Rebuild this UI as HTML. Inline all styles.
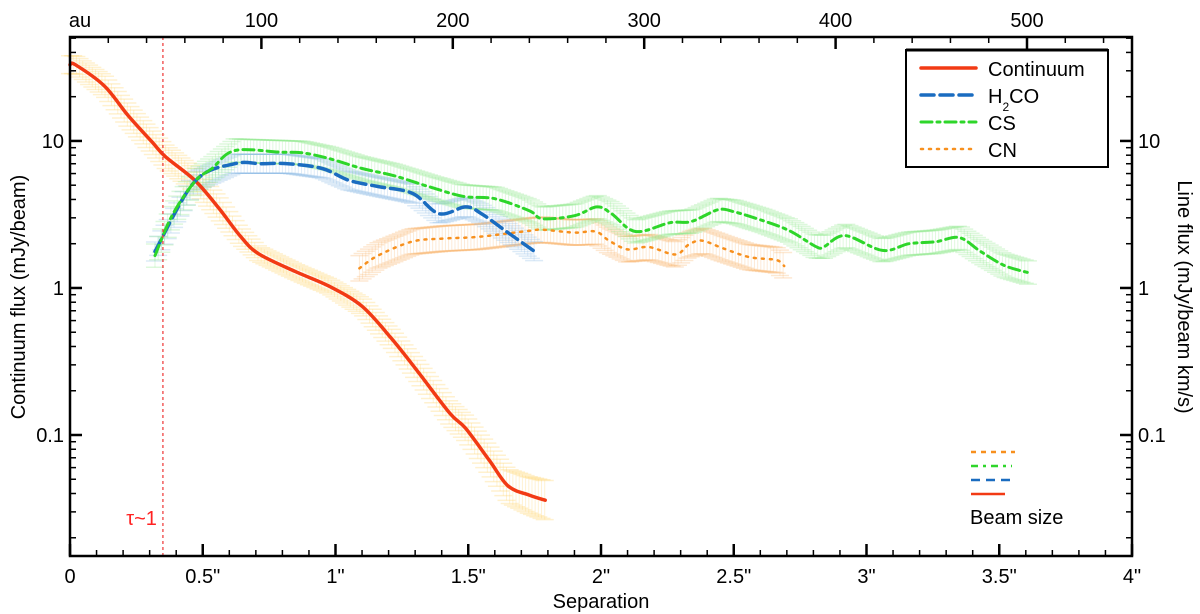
<!DOCTYPE html>
<html><head><meta charset="utf-8"><style>
html,body{margin:0;padding:0;background:#fff;}
svg{display:block;font-family:"Liberation Sans",Arial,sans-serif;}
</style></head><body>
<svg id="chart" width="1200" height="614" viewBox="0 0 1200 614" xmlns="http://www.w3.org/2000/svg">
<g id="bands"></g>
<g id="lines"></g>
<g id="axes"></g>
</svg>
<script>
const contX=[0,0.02,0.13,0.22,0.31,0.36,0.47,0.56,0.64,0.71,0.85,0.975,1.1,1.21,1.31,1.43,1.49,1.58,1.65,1.73,1.79];
const contY=[33,33,23.6,14.8,9.8,7.8,5.4,3.5,2.27,1.71,1.29,1.03,0.75,0.455,0.27,0.141,0.111,0.067,0.045,0.039,0.036];
const contErr=[0.15,0.15,0.18,0.2,0.2,0.2,0.2,0.2,0.15,0.12,0.12,0.12,0.14,0.16,0.18,0.2,0.22,0.26,0.3,0.33,0.36];
const h2coX=[0.32,0.47,0.62,0.72,0.82,0.95,1.05,1.16,1.29,1.39,1.49,1.55,1.64,1.75];
const h2coY=[1.77,5.3,7.0,7.0,7.0,6.5,5.4,4.9,4.4,3.2,3.56,3.2,2.45,1.77];
const csX=[0.32,0.384,0.47,0.535,0.62,0.79,0.875,0.975,1.1,1.22,1.35,1.48,1.6,1.73,1.78,1.9,1.985,2.04,2.13,2.26,2.34,2.44,2.5,2.61,2.71,2.81,2.84,2.92,3.06,3.16,3.26,3.35,3.43,3.52,3.61];
const csY=[1.66,3.1,5.3,6.5,8.6,8.4,8.3,7.6,6.5,5.8,4.9,4.2,4.05,3.35,2.96,3.1,3.56,3.2,2.42,2.78,2.83,3.4,3.3,2.87,2.45,1.91,1.91,2.27,1.8,2.0,2.06,2.2,1.77,1.42,1.27];
const cnX=[1.09,1.16,1.29,1.41,1.54,1.73,1.78,1.9,1.98,2.03,2.1,2.18,2.28,2.33,2.38,2.46,2.56,2.66,2.69];
const cnY=[1.36,1.66,2.07,2.17,2.23,2.45,2.49,2.38,2.42,2.1,1.83,1.9,1.69,1.97,2.1,1.86,1.62,1.55,1.41];
const xTicks=[0,0.5,1,1.5,2,2.5,3,3.5,4];
const xTickLabels=['0','0.5"','1"','1.5"','2"','2.5"','3"','3.5"','4"'];
const auTicks=[100,200,300,400,500];
const yTicks=[0.1,1,10];
const yTickLabels=['0.1','1','10'];

const L=70,R=1132,T=37,B=556;
const X=v=>L+v*(R-L)/4;
const LOGTOP=1.707,LOGBOT=-1.823;
const Y=v=>T+(LOGTOP-Math.log10(v))/(LOGTOP-LOGBOT)*(B-T);
const AU=a=>L+a*1.914;
const NS='http://www.w3.org/2000/svg';
function mk(tag,attrs,parent){const e=document.createElementNS(NS,tag);for(const k in attrs)e.setAttribute(k,attrs[k]);parent.appendChild(e);return e;}
const bands=document.getElementById('bands'),lines=document.getElementById('lines'),axes=document.getElementById('axes');

function interp(xs,ys,x){for(let i=0;i<xs.length-1;i++){if(x>=xs[i]&&x<=xs[i+1]){const t=(x-xs[i])/(xs[i+1]-xs[i]);return Math.exp(Math.log(ys[i])*(1-t)+Math.log(ys[i+1])*t);}}return ys[ys.length-1];}
function smoothPath(pts){
  let d='M'+pts[0][0].toFixed(1)+','+pts[0][1].toFixed(1);
  for(let i=0;i<pts.length-1;i++){
    const p0=pts[Math.max(0,i-1)],p1=pts[i],p2=pts[i+1],p3=pts[Math.min(pts.length-1,i+2)];
    const c1=[p1[0]+(p2[0]-p0[0])/6,p1[1]+(p2[1]-p0[1])/6];
    const c2=[p2[0]-(p3[0]-p1[0])/6,p2[1]-(p3[1]-p1[1])/6];
    d+=' C'+c1[0].toFixed(1)+','+c1[1].toFixed(1)+' '+c2[0].toFixed(1)+','+c2[1].toFixed(1)+' '+p2[0].toFixed(1)+','+p2[1].toFixed(1);
  }
  return d;
}

function drawSeries(name,xs,ys,errs,color,band,dash,w){
  const g=mk('g',{},bands);
  
  
  const x0=xs[0],x1=xs[xs.length-1];
  for(let x=x0;x<=x1+1e-9;x+=0.012){
    const v=interp(xs,ys,x);
    const e=Array.isArray(errs)?interp(xs,errs,x):errs;
    const px=X(x),yt=Y(v*(1+e)),yb=Y(v/(1+e));
    mk('line',{x1:px,x2:px,y1:yt,y2:yb,stroke:band,'stroke-width':1,'stroke-opacity':0.28},g);
    mk('line',{x1:px-9,x2:px+9,y1:yt,y2:yt,stroke:band,'stroke-width':1.5,'stroke-opacity':0.3},g);
    mk('line',{x1:px-9,x2:px+9,y1:yb,y2:yb,stroke:band,'stroke-width':1.5,'stroke-opacity':0.3},g);
  }
  const pts=xs.map((x,i)=>[X(x),Y(ys[i])]);
  const pl=mk('path',{d:smoothPath(pts),fill:'none',stroke:color,'stroke-width':w,'stroke-linejoin':'round','stroke-linecap':'round'},lines);
  
  
  if(dash)pl.setAttribute('stroke-dasharray',dash);
}
drawSeries('continuum',contX,contY,contErr,'#f23a14','#ffd060',null,3.5);
drawSeries('cn',cnX,cnY,0.22,'#f7901e','#f9b46a','2,6',2.5);
drawSeries('h2co',h2coX,h2coY,0.16,'#1a6cc0','#8ab8e6','13,6',3.5);
drawSeries('cs',csX,csY,0.2,'#2ed62a','#8de88a','11,5,3,5',3);

const tl=mk('line',{x1:X(0.35),x2:X(0.35),y1:T,y2:B,stroke:'#e33','stroke-width':1.2,'stroke-dasharray':'3,3'},axes);

const tt=mk('text',{x:X(0.35)-6,y:525,'text-anchor':'end','font-size':20,fill:'#f22'},axes);tt.textContent='τ~1';


const fr=mk('rect',{x:L,y:T,width:R-L,height:B-T,fill:'none',stroke:'#000','stroke-width':2.5},axes);

for(let i=0;i<=40;i++){const v=i/10,px=X(v),maj=i%5===0,len=maj?12:6;
  mk('line',{x1:px,x2:px,y1:B,y2:B-len,stroke:'#000','stroke-width':maj?2.5:1.5},axes);}
xTicks.forEach((v,i)=>{const t=mk('text',{x:X(v),y:583,'text-anchor':'middle','font-size':20},axes);t.textContent=xTickLabels[i];
  });
for(let a=0;a<=550;a+=20){const px=AU(a);if(px>R)break;const maj=a%100===0&&a>0;
  mk('line',{x1:px,x2:px,y1:T,y2:T+(maj?12:6),stroke:'#000','stroke-width':maj?2.5:1.5},axes);}
auTicks.forEach(a=>{const t=mk('text',{x:AU(a),y:27,'text-anchor':'middle','font-size':20},axes);t.textContent=String(a);
  });
const au=mk('text',{x:80,y:27,'text-anchor':'middle','font-size':20},axes);au.textContent='au';

for(let d=-2;d<=1;d++){for(let m=1;m<=9;m++){const v=m*Math.pow(10,d),py=Y(v);if(py<T||py>B)continue;const maj=m===1,len=maj?12:6;
  mk('line',{x1:L,x2:L+len,y1:py,y2:py,stroke:'#000','stroke-width':maj?2.5:1.5},axes);
  mk('line',{x1:R,x2:R-len,y1:py,y2:py,stroke:'#000','stroke-width':maj?2.5:1.5},axes);}}
yTicks.forEach((v,i)=>{
  const a=mk('text',{x:L-6,y:Y(v)+7,'text-anchor':'end','font-size':20},axes);a.textContent=yTickLabels[i];
  
  const b=mk('text',{x:R+6,y:Y(v)+7,'text-anchor':'start','font-size':20},axes);b.textContent=yTickLabels[i];
  });
const xt=mk('text',{x:601,y:608,'text-anchor':'middle','font-size':20},axes);xt.textContent='Separation';

const yl=mk('text',{x:0,y:0,'text-anchor':'middle','font-size':20,transform:'translate(25,297) rotate(-90)'},axes);yl.textContent='Continuum flux (mJy/beam)';

const yr=mk('text',{x:0,y:0,'text-anchor':'middle','font-size':20,transform:'translate(1178,297) rotate(90)'},axes);yr.textContent='Line flux (mJy/beam km/s)';


const lg=mk('g',{},axes);
mk('rect',{x:906,y:50,width:202,height:117,fill:'#fff',stroke:'#000','stroke-width':2},lg);
mk('line',{x1:906,x2:1108,y1:50,y2:50,stroke:'#000','stroke-width':3},lg);
const legItems=[['Continuum','#f23a14',null,3.5,68],['H2CO','#1a6cc0','13,6',3.5,95],['CS','#2ed62a','11,5,3,5',3,122],['CN','#f7901e','2,6',2.5,149]];
legItems.forEach(it=>{
  const ln=mk('line',{x1:921,x2:976,y1:it[4],y2:it[4],stroke:it[1],'stroke-width':it[3],'stroke-linecap':'round'},lg);
  if(it[2])ln.setAttribute('stroke-dasharray',it[2]);
  const t=mk('text',{x:988,y:it[4]+8,'font-size':20},lg);
  if(it[0]==='H2CO'){t.innerHTML='H<tspan font-size="12" dy="8">2</tspan><tspan dy="-8">CO</tspan>';}else t.textContent=it[0];
  });
const bs=mk('g',{},axes);
[['#f7901e','5,5',452,1015,2.5],['#2ed62a','7,5,3,5',466,1012,2.5],['#1a6cc0','9,6',480,1010,2.5],['#f23a14',null,494,1005,2.5]].forEach(b=>{
  const l=mk('line',{x1:971,x2:b[3],y1:b[2],y2:b[2],stroke:b[0],'stroke-width':b[4]},bs);if(b[1])l.setAttribute('stroke-dasharray',b[1]);});
const bt=mk('text',{x:970,y:524,'font-size':20},bs);bt.textContent='Beam size';
</script>
</body></html>
